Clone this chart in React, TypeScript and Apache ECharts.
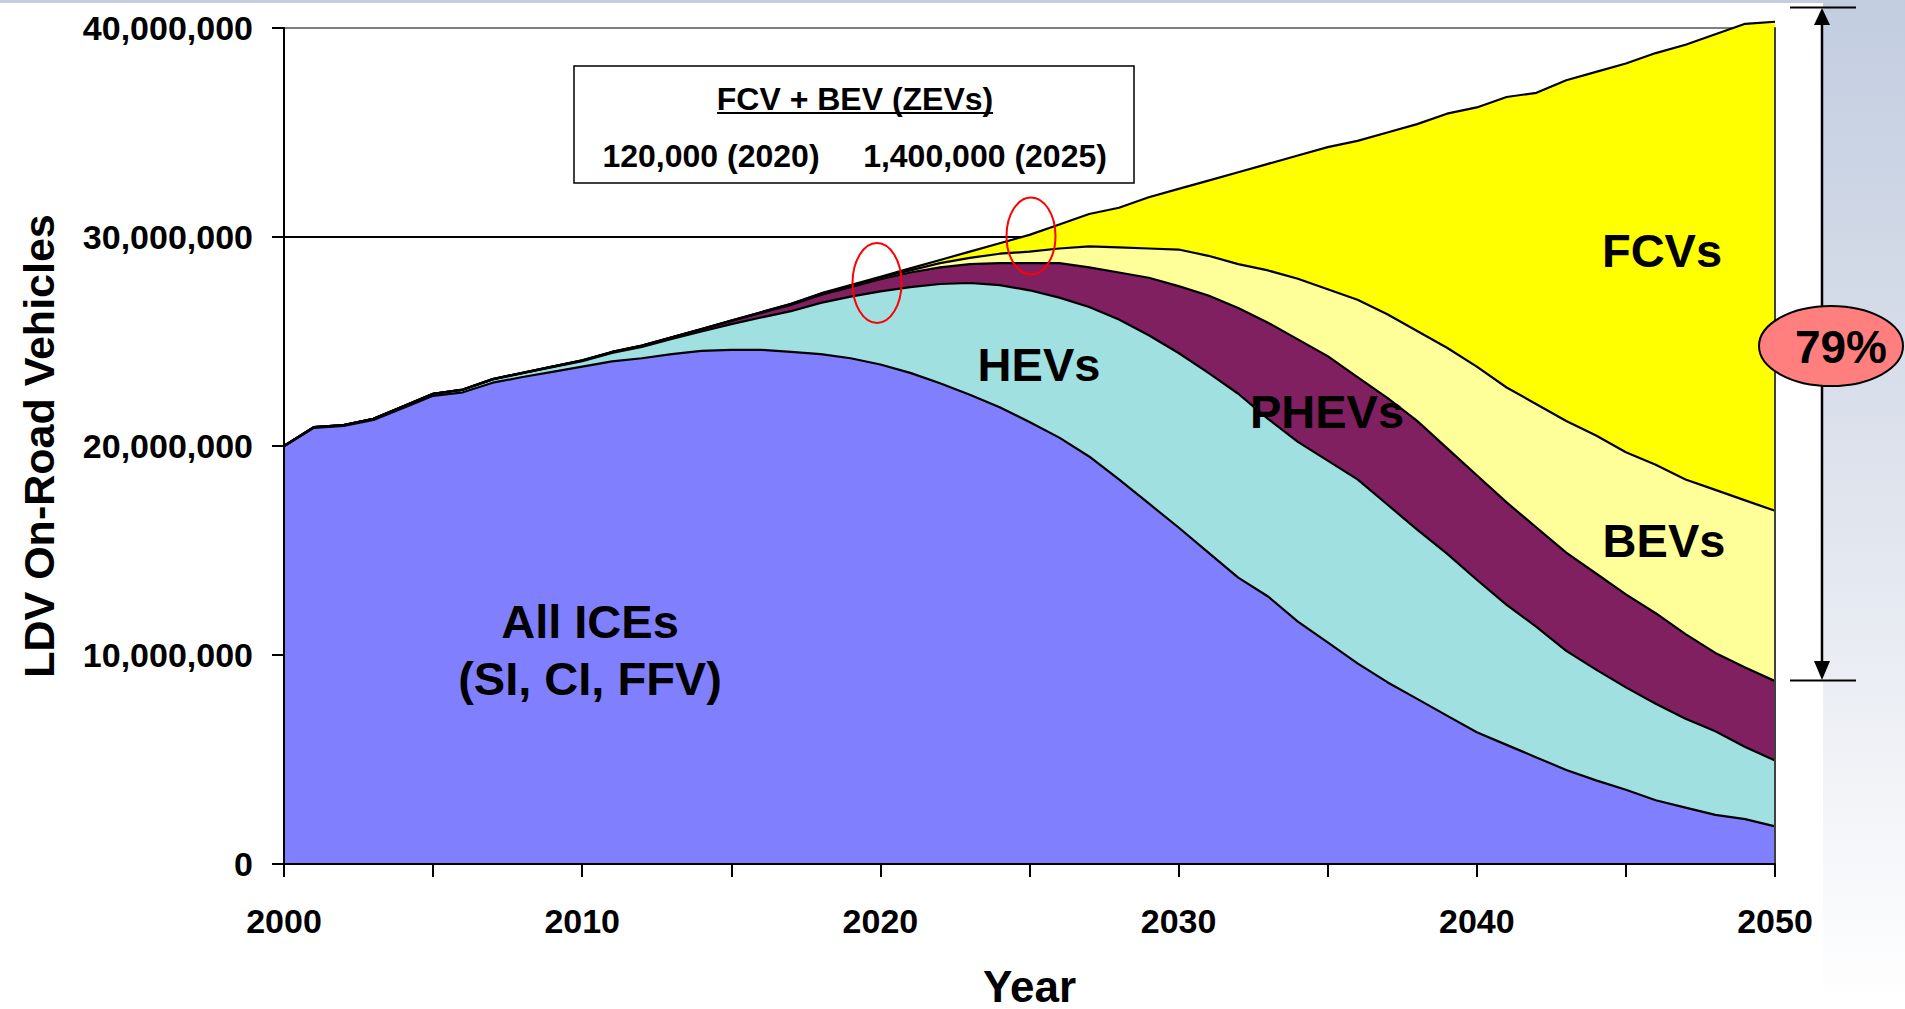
import React, { useEffect, useRef } from "react";
import * as echarts from "echarts";

// Years (x categories)
const years = [
  "2000", "2001", "2002", "2003", "2004", "2005", "2006", "2007", "2008", "2009",
  "2010", "2011", "2012", "2013", "2014", "2015", "2016", "2017", "2018", "2019",
  "2020", "2021", "2022", "2023", "2024", "2025", "2026", "2027", "2028", "2029",
  "2030", "2031", "2032", "2033", "2034", "2035", "2036", "2037", "2038", "2039",
  "2040", "2041", "2042", "2043", "2044", "2045", "2046", "2047", "2048", "2049", "2050",
];

// On-road vehicles, millions
const ice = [
  19.98, 20.87, 20.96, 21.25, 21.82, 22.4, 22.57, 23.03, 23.3, 23.55,
  23.8, 24.05, 24.2, 24.4, 24.55, 24.6, 24.6, 24.5, 24.4, 24.2,
  23.9, 23.5, 23.0, 22.45, 21.85, 21.15, 20.4, 19.5, 18.4, 17.25,
  16.1, 14.9, 13.7, 12.8, 11.6, 10.6, 9.6, 8.7, 7.9, 7.1,
  6.3, 5.7, 5.1, 4.5, 4.0, 3.55, 3.05, 2.7, 2.35, 2.15, 1.8,
];
const hev = [
  0.02, 0.03, 0.04, 0.05, 0.07, 0.09, 0.12, 0.15, 0.18, 0.22,
  0.26, 0.4, 0.54, 0.72, 0.93, 1.23, 1.55, 1.95, 2.45, 2.95,
  3.5, 4.1, 4.75, 5.35, 5.85, 6.3, 6.7, 7.15, 7.65, 8.05,
  8.35, 8.6, 8.8, 8.5, 8.6, 8.7, 8.8, 8.5, 8.1, 7.75,
  7.3, 6.7, 6.25, 5.7, 5.3, 4.9, 4.62, 4.25, 4.0, 3.45, 3.15,
];
const phev = [
  0, 0, 0, 0, 0.01, 0.01, 0.01, 0.02, 0.02, 0.03,
  0.03, 0.04, 0.05, 0.07, 0.1, 0.15, 0.22, 0.3, 0.38, 0.45,
  0.58, 0.7, 0.8, 0.9, 1.05, 1.3, 1.65, 1.9, 2.25, 2.75,
  3.2, 3.7, 4.1, 4.6, 4.9, 5.0, 4.9, 5.1, 5.2, 5.05,
  5.0, 4.9, 4.75, 4.7, 4.6, 4.45, 4.33, 4.05, 3.75, 3.8, 3.8,
];
const bev = [
  0, 0, 0, 0, 0, 0, 0, 0, 0, 0,
  0.01, 0.01, 0.01, 0.01, 0.02, 0.02, 0.03, 0.04, 0.05, 0.07,
  0.08, 0.1, 0.2, 0.3, 0.45, 0.55, 0.7, 1.0, 1.2, 1.4,
  1.75, 1.9, 2.1, 2.5, 2.9, 3.2, 3.7, 4.0, 4.3, 4.8,
  5.2, 5.5, 5.9, 6.3, 6.6, 6.8, 7.1, 7.4, 7.8, 8.0, 8.15,
];
const fcv = [
  0, 0, 0, 0, 0, 0, 0, 0, 0, 0,
  0, 0, 0, 0, 0, 0, 0, 0.01, 0.02, 0.03,
  0.04, 0.1, 0.15, 0.3, 0.5, 0.8, 1.15, 1.55, 1.9, 2.45,
  2.9, 3.6, 4.4, 5.1, 5.9, 6.8, 7.6, 8.7, 9.9, 11.2,
  12.4, 13.9, 14.9, 16.3, 17.4, 18.6, 19.7, 20.8, 21.8, 22.8, 23.4,
];

const seriesNames = ["All ICEs", "HEVs", "PHEVs", "BEVs", "FCVs"];
const seriesColors = ["#8080ff", "#a0e0e0", "#802060", "#ffff99", "#ffff00"];
const yTickLabels = ["0", "10,000,000", "20,000,000", "30,000,000", "40,000,000"];

const FONT = "'Liberation Sans', Arial, Helvetica, sans-serif";

export default function App() {
  const ref = useRef<HTMLDivElement>(null);

  useEffect(() => {
    if (!ref.current) return;
    const chart = echarts.init(ref.current, undefined, { renderer: "svg" });
    const allData = [ice, hev, phev, bev, fcv];

    const areaSeries = allData.map((arr, i) => ({
      name: seriesNames[i],
      type: "line",
      stack: "areas",
      data: arr,
      symbol: "none",
      showSymbol: false,
      clip: false,
      silent: true,
      lineStyle: { width: 0, color: seriesColors[i] },
      areaStyle: { color: seriesColors[i], opacity: 1 },
      z: 2,
    }));
    const lineSeries = allData.map((arr, i) => ({
      name: seriesNames[i] + " edge",
      type: "line",
      stack: "edges",
      data: arr,
      symbol: "none",
      showSymbol: false,
      clip: false,
      silent: true,
      lineStyle: { width: 2.2, color: "#000" },
      z: 3,
    }));

    const labelStyle = { fontFamily: FONT, fontWeight: "bold", color: "#000" };
    const txt = (text: string, x: number, y: number, size: number) => ({
      type: "text",
      z: 20,
      style: {
        text,
        x,
        y,
        fill: "#000",
        font: `bold ${size}px ${FONT}`,
        align: "center",
        textAlign: "center",
        verticalAlign: "middle",
        textVerticalAlign: "middle",
      },
    });

    chart.setOption({
      animation: false,
      backgroundColor: "transparent",
      grid: {
        left: 284,
        right: 130,
        top: 28,
        bottom: 145,
        containLabel: false,
        outerBoundsMode: "none",
      },
      xAxis: {
        type: "category",
        data: years,
        boundaryGap: false,
        z: 10,
        axisLine: { show: true, onZero: false, lineStyle: { color: "#000", width: 2 } },
        axisTick: {
          show: true,
          length: 13,
          interval: (i: number) => i % 5 === 0,
          lineStyle: { color: "#000", width: 2 },
        },
        axisLabel: {
          ...labelStyle,
          fontSize: 34,
          margin: 40,
          interval: (i: number) => i % 10 === 0,
        },
        splitLine: { show: false },
        name: "Year",
        nameLocation: "middle",
        nameGap: 100,
        nameTextStyle: { ...labelStyle, fontSize: 44 },
      },
      yAxis: [
        {
          type: "value",
          min: 0,
          max: 40,
          interval: 10,
          axisLine: { show: false },
          axisTick: { show: true, length: 12, lineStyle: { color: "#000", width: 2 } },
          axisLabel: {
            ...labelStyle,
            fontSize: 34,
            margin: 31,
            formatter: (v: number) => yTickLabels[Math.round(v / 10)] ?? "",
          },
          splitLine: {
            show: true,
            lineStyle: { color: ["#000", "#000", "#000", "#000", "#7f7f7f"], width: 2 },
          },
          name: "LDV On-Road Vehicles",
          nameLocation: "middle",
          nameRotate: 90,
          nameGap: 224,
          nameTextStyle: { ...labelStyle, fontSize: 43 },
        },
        {
          type: "value",
          min: 0,
          max: 40,
          interval: 10,
          position: "left",
          z: 10,
          axisLine: { show: true, onZero: false, lineStyle: { color: "#000", width: 2 } },
          axisTick: { show: false },
          axisLabel: { show: false },
          splitLine: { show: false },
        },
        {
          type: "value",
          min: 0,
          max: 40,
          interval: 10,
          position: "right",
          z: 10,
          axisLine: { show: true, onZero: false, lineStyle: { color: "#404040", width: 2 } },
          axisTick: { show: false },
          axisLabel: { show: false },
          splitLine: { show: false },
        },
      ],
      series: [...areaSeries, ...lineSeries],
      graphic: [
        // ZEV info box
        {
          type: "rect",
          z: 15,
          shape: { x: 574, y: 66, width: 560, height: 117 },
          style: { fill: "#fff", stroke: "#000", lineWidth: 1.5 },
        },
        txt("FCV + BEV (ZEVs)", 855, 99, 32),
        {
          type: "line",
          z: 20,
          shape: { x1: 717, y1: 113, x2: 993, y2: 113 },
          style: { stroke: "#000", lineWidth: 2 },
        },
        txt("120,000 (2020)", 711, 156, 32),
        txt("1,400,000 (2025)", 985, 156, 32),
        // red ellipses
        {
          type: "ellipse",
          z: 20,
          shape: { cx: 877, cy: 283, rx: 24.5, ry: 40 },
          style: { fill: "none", stroke: "#ff0000", lineWidth: 2 },
        },
        {
          type: "ellipse",
          z: 20,
          shape: { cx: 1031, cy: 236, rx: 24.5, ry: 38.5 },
          style: { fill: "none", stroke: "#ff0000", lineWidth: 2 },
        },
        // region labels
        txt("All ICEs", 590, 621, 47),
        txt("(SI, CI, FFV)", 590, 678, 47),
        txt("HEVs", 1039, 364, 47),
        txt("PHEVs", 1327, 411, 47),
        txt("FCVs", 1662, 250, 47),
        txt("BEVs", 1664, 540, 47),
        // 79% arrow
        {
          type: "line",
          z: 20,
          shape: { x1: 1790, y1: 7.5, x2: 1856, y2: 7.5 },
          style: { stroke: "#000", lineWidth: 2 },
        },
        {
          type: "line",
          z: 20,
          shape: { x1: 1790, y1: 680.5, x2: 1856, y2: 680.5 },
          style: { stroke: "#000", lineWidth: 2 },
        },
        {
          type: "line",
          z: 20,
          shape: { x1: 1822, y1: 20, x2: 1822, y2: 665 },
          style: { stroke: "#000", lineWidth: 2.5 },
        },
        {
          type: "polygon",
          z: 21,
          shape: { points: [[1822, 8], [1814, 25], [1830, 25]] },
          style: { fill: "#000" },
        },
        {
          type: "polygon",
          z: 21,
          shape: { points: [[1822, 680], [1814, 661], [1830, 661]] },
          style: { fill: "#000" },
        },
        {
          type: "ellipse",
          z: 22,
          shape: { cx: 1831, cy: 346, rx: 72, ry: 40 },
          style: { fill: "#ff7f7f", stroke: "#000", lineWidth: 2 },
        },
        { ...txt("79%", 1841, 347, 46), z: 23 },
      ],
    });

    return () => chart.dispose();
  }, []);

  return (
    <div
      style={{
        position: "fixed",
        left: 0,
        top: 0,
        width: 1905,
        height: 1009,
        background: "linear-gradient(to bottom, #c2cde0 0%, #dde2ec 45%, #ffffff 100%)",
        overflow: "hidden",
      }}
    >
      <div
        style={{
          position: "absolute",
          left: 0,
          top: 3,
          width: 1823,
          height: 1006,
          background: "#ffffff",
        }}
      />
      <div
        ref={ref}
        style={{ position: "absolute", left: 0, top: 0, width: 1905, height: 1009 }}
      />
    </div>
  );
}
